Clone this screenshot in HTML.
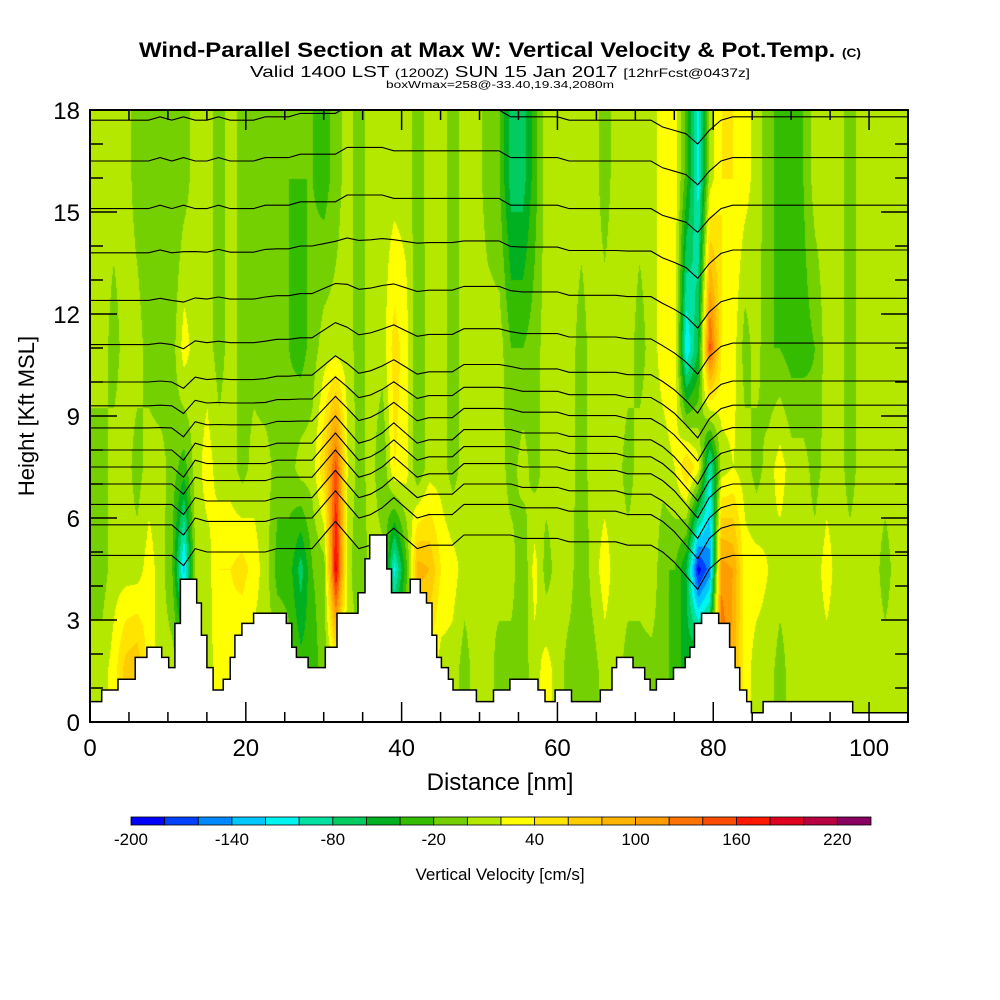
<!DOCTYPE html>
<html><head><meta charset="utf-8"><style>
body{margin:0;background:#fff;width:1000px;height:1000px;overflow:hidden;font-family:"Liberation Sans",sans-serif}
#wrap{position:relative;width:1000px;height:1000px}
canvas{position:absolute;left:90px;top:110px}
svg{position:absolute;left:0;top:0}
</style></head><body>
<div id="wrap">
<canvas id="field" width="818" height="612"></canvas>
<svg id="ov" width="1000" height="1000">
<defs><clipPath id="plotclip"><rect x="90" y="110" width="818" height="612"/></clipPath></defs>
<text x="500" y="57" text-anchor="middle" font-size="21" font-weight="bold" textLength="722" lengthAdjust="spacingAndGlyphs">Wind-Parallel Section at Max W: Vertical Velocity &amp; Pot.Temp. <tspan font-size="12">(C)</tspan></text>
<text x="500" y="77" text-anchor="middle" font-size="16" textLength="500" lengthAdjust="spacingAndGlyphs">Valid 1400 LST <tspan font-size="12">(1200Z)</tspan> SUN 15 Jan 2017 <tspan font-size="12">[12hrFcst@0437z]</tspan></text>
<text x="500" y="88" text-anchor="middle" font-size="10" textLength="228" lengthAdjust="spacingAndGlyphs">boxWmax=258@-33.40,19.34,2080m</text>
<g id="contours" clip-path="url(#plotclip)"></g>
<g id="terrain"></g>
<g id="axes"></g>
<text x="500" y="790" text-anchor="middle" font-size="24">Distance [nm]</text>
<text transform="translate(34,416) rotate(-90)" text-anchor="middle" font-size="22">Height [Kft MSL]</text>
<g id="cbar"></g>
<text x="500" y="880" text-anchor="middle" font-size="17">Vertical Velocity [cm/s]</text>
</svg>
</div>
<script>
const colStep = 1.5;
const levels = [1.5, 4.5, 7.5, 11, 16];
const w1 = [10,10,30,70,80,30,10,10,10,10,10,30,30,10,10,10,10,-10,-30,-30,-10,10,10,10,10,10,10,10,30,30,10,10,-10,10,10,-10,-10,-10,10,30,10,-10,-10,-10,10,10,-10,-10,-10,-10,-30,-50,-10,10,150,90,30,10,10,-10,10,10,10,10,10,10,10,10,10,10,10];
const w2 = [-10,-10,10,10,10,30,10,-20,-130,10,10,40,40,50,30,10,-30,-30,-70,-20,-10,190,10,-20,10,10,-110,-30,90,80,40,30,10,10,0,10,10,-20,30,-10,10,10,-20,10,30,10,10,10,20,-20,-20,-60,-190,-150,110,100,30,30,20,10,10,10,10,30,10,10,10,10,-10,10,10];
const w3 = [-10,-10,10,10,-10,10,10,-10,-30,10,30,10,10,-10,10,10,-10,-10,10,10,60,150,20,-10,10,-20,40,30,-20,10,10,-10,10,10,10,10,-10,10,-10,10,10,10,-10,10,10,10,-10,10,10,10,20,60,30,-100,10,20,10,-10,10,30,10,10,-10,10,10,-10,10,10,10,10,10];
const w4 = [10,10,-10,10,10,-10,-20,-10,30,10,10,-10,10,-10,-10,-20,-20,-20,-30,-10,10,10,10,-10,10,10,50,30,-20,10,10,-10,10,10,10,10,-20,-20,-10,10,10,10,-10,10,10,10,10,-10,10,30,40,-120,-60,150,40,30,-10,10,-20,-20,-30,-30,-20,10,10,-10,10,10,10,10,10];
const w5 = [10,10,10,10,-10,-20,-20,-20,-10,10,10,-10,10,-10,-20,-20,-20,-20,-20,-20,-30,-10,10,-10,10,10,10,10,-10,10,10,-10,10,10,-10,-20,-70,-70,-30,10,10,10,10,10,-10,10,10,10,10,30,30,-30,-110,10,40,40,30,10,-10,-30,-30,-20,10,10,10,-10,10,10,10,10,10];
const terrainStartNm = [0,1.5,3.6,5.8,7.3,9.2,10.1,10.9,11.6,13.7,14.3,15.0,15.8,17.1,18.0,18.6,19.5,21.0,25.2,25.9,26.5,28.0,30.2,31.7,34.4,35.3,35.9,38.1,38.7,41.1,42.4,43.2,43.9,44.5,45.1,46.0,46.6,49.6,51.8,53.9,57.5,58.4,59.7,61.8,65.5,67.0,67.6,69.7,71.2,71.9,72.7,74.9,76.4,77.0,77.6,78.5,80.7,82.1,82.8,83.4,84.3,84.9,86.4,97.9];
const terrainKft = [0.6,0.94,1.26,1.9,2.2,1.9,1.6,2.9,4.2,3.5,2.55,1.6,0.94,1.26,1.9,2.55,2.9,3.2,2.9,2.2,1.9,1.6,2.2,3.2,3.8,4.8,5.5,4.5,3.8,4.2,3.8,3.5,2.55,1.9,1.6,1.26,0.94,0.6,0.94,1.26,0.94,0.6,0.94,0.6,0.94,1.6,1.9,1.6,1.26,0.94,1.26,1.6,1.9,2.2,2.9,3.2,2.9,2.2,1.6,0.94,0.6,0.27,0.6,0.27];
const contourLevels = [17.7,16.5,15.1,13.8,12.4,11.1,10.0,9.3,8.65,8.0,7.5,7.0,6.4,5.8,4.9];
const dispLow = [0,0,0,0,0,0,0,0,-0.3,0.2,0.1,0.1,0.1,0.1,0.1,0.1,0.2,0.2,0.2,0.2,0.6,1.0,0.6,0.2,0.3,0.5,0.8,0.5,0.2,0.3,0.3,0.3,0.6,0.6,0.6,0.6,0.6,0.5,0.5,0.5,0.5,0.4,0.4,0.4,0.4,0.4,0.3,0.3,0.3,0.1,-0.2,-0.6,-1.0,-0.4,-0.1,0,0,0,0,0,0,0,0,0,0,0,0,0,0,0,0];
const dispHigh = [0,0,0,0,0,0,0.1,0,0.1,0,0,0.1,0,0,0,0.1,0.1,0.1,0.2,0.2,0.2,0.2,0.4,0.4,0.4,0.4,0.3,0.3,0.3,0.3,0.3,0.3,0.3,0.3,0.3,0.3,0.1,0.1,0.1,0.1,0.1,0,0,0,0,0,0,0,0,-0.2,-0.3,-0.4,-0.7,-0.3,0,0.1,0.1,0.1,0.1,0.1,0.1,0.1,0.1,0.1,0.1,0.1,0.1,0.1,0.1,0.1,0.1];
const cbColors = ['#0000ff','#0040ff','#0088ff','#00c8ff','#00f4f0','#00e0a0','#00cc60','#00b020','#34bc00','#74d000','#b4e800','#ffff00','#ffe400','#ffcc00','#ffb400','#ff9c00','#ff7400','#ff4c00','#ff1800','#e00020','#b80040','#880060'];
const cbLabels = [-200,-140,-80,-20,40,100,160,220];

const X0=90,X1=908,Y0=722,Y1=110;
const xs = nm => X0 + nm*(X1-X0)/105;
const ys = k => Y0 - k*(Y0-Y1)/18;
const NS='http://www.w3.org/2000/svg';
const rows=[w1,w2,w3,w4,w5];

function colVal(arr, nm){
  let f=nm/colStep, i=Math.floor(f); if(i<0)i=0; if(i>=arr.length-1) return arr[arr.length-1];
  let t=f-i; return arr[i]*(1-t)+arr[i+1]*t;
}
function fieldVal(nm,h){
  if(h<=levels[0]) return colVal(rows[0],nm);
  if(h>=levels[levels.length-1]) return colVal(rows[rows.length-1],nm);
  for(let j=0;j<levels.length-1;j++){
    if(h<=levels[j+1]){const t=(h-levels[j])/(levels[j+1]-levels[j]);return colVal(rows[j],nm)*(1-t)+colVal(rows[j+1],nm)*t;}
  }
}
function hex(c){return [parseInt(c.slice(1,3),16),parseInt(c.slice(3,5),16),parseInt(c.slice(5,7),16)];}
const rgb=cbColors.map(hex);
(function(){
  const cv=document.getElementById('field'),ctx=cv.getContext('2d');
  const W=cv.width,H=cv.height,img=ctx.createImageData(W,H);
  for(let py=0;py<H;py++){
    const h=(Y0-(py+110))*18/(Y0-Y1);
    for(let px=0;px<W;px++){
      const nm=px*105/(X1-X0);
      const v=fieldVal(nm,h);
      let k=Math.floor((v+200)/20); if(k<0)k=0; if(k>21)k=21;
      const c=rgb[k],o=(py*W+px)*4;
      img.data[o]=c[0];img.data[o+1]=c[1];img.data[o+2]=c[2];img.data[o+3]=255;
    }
  }
  ctx.putImageData(img,0,0);
})();

const cg=document.getElementById('contours');
contourLevels.forEach((h0,ci)=>{
  let pts=[];
  for(let i=0;i<dispLow.length;i++){
    const w=Math.min(1,Math.max(0,(h0-8)/7));
    const d=dispLow[i]*(1-w)+dispHigh[i]*w;
    pts.push(xs(i*colStep).toFixed(1)+','+ys(h0+d).toFixed(1));
  }
  const p=document.createElementNS(NS,'polyline');
  p.setAttribute('points',pts.join(' '));
  p.setAttribute('fill','none');p.setAttribute('stroke','#000');p.setAttribute('stroke-width','1.1');
  
  
  cg.appendChild(p);
});

(function(){
  let d='M'+xs(0)+','+ys(0);
  for(let i=0;i<terrainStartNm.length;i++){
    const x0=xs(terrainStartNm[i]), x1=xs(i+1<terrainStartNm.length?terrainStartNm[i+1]:105), y=ys(terrainKft[i]);
    d+=' L'+x0.toFixed(1)+','+y.toFixed(1)+' L'+x1.toFixed(1)+','+y.toFixed(1);
  }
  d+=' L'+xs(105)+','+ys(0)+' Z';
  const p=document.createElementNS(NS,'path');
  p.setAttribute('d',d);p.setAttribute('fill','#fff');p.setAttribute('stroke','#000');p.setAttribute('stroke-width','1.5');
  
  
  document.getElementById('terrain').appendChild(p);
})();

(function(){
  const g=document.getElementById('axes');
  function ln(x1,y1,x2,y2,w){const l=document.createElementNS(NS,'line');l.setAttribute('x1',x1);l.setAttribute('y1',y1);l.setAttribute('x2',x2);l.setAttribute('y2',y2);l.setAttribute('stroke','#000');l.setAttribute('stroke-width',w);g.appendChild(l);}
  const r=document.createElementNS(NS,'rect');
  r.setAttribute('x',X0);r.setAttribute('y',Y1);r.setAttribute('width',X1-X0);r.setAttribute('height',Y0-Y1);
  r.setAttribute('fill','none');r.setAttribute('stroke','#000');r.setAttribute('stroke-width','2');
  
  
  g.appendChild(r);
  for(let v=0;v<=105;v+=5){
    const x=xs(v),L=v%20===0?20:10;
    ln(x,Y0,x,Y0-L,1.5);ln(x,Y1,x,Y1+L,1.5);
    if(v%20===0){const t=document.createElementNS(NS,'text');t.setAttribute('x',x);t.setAttribute('y',756);t.setAttribute('text-anchor','middle');t.setAttribute('font-size','24');t.textContent=v;
      
      
      g.appendChild(t);}
  }
  for(let v=0;v<=18;v++){
    const y=ys(v),L=v%3===0?27:13;
    ln(X0,y,X0+L,y,1.5);ln(X1,y,X1-L,y,1.5);
    if(v%3===0){const t=document.createElementNS(NS,'text');t.setAttribute('x',80);t.setAttribute('y',y+9);t.setAttribute('text-anchor','end');t.setAttribute('font-size','24');t.textContent=v;
      
      
      g.appendChild(t);}
  }
})();

(function(){
  const g=document.getElementById('cbar'),bx=131,bw=740/22,by=817,bh=8;
  cbColors.forEach((c,i)=>{
    const r=document.createElementNS(NS,'rect');
    r.setAttribute('x',bx+i*bw);r.setAttribute('y',by);r.setAttribute('width',bw);r.setAttribute('height',bh);
    r.setAttribute('fill',c);r.setAttribute('stroke','#000');r.setAttribute('stroke-width','0.8');
    
    
    g.appendChild(r);
  });
  cbLabels.forEach(v=>{
    const t=document.createElementNS(NS,'text');
    t.setAttribute('x',bx+(v+200)/20*bw);t.setAttribute('y',845);t.setAttribute('text-anchor','middle');t.setAttribute('font-size','17');
    t.textContent=v;
    
    
    g.appendChild(t);
  });
})();
</script>
</body></html>
